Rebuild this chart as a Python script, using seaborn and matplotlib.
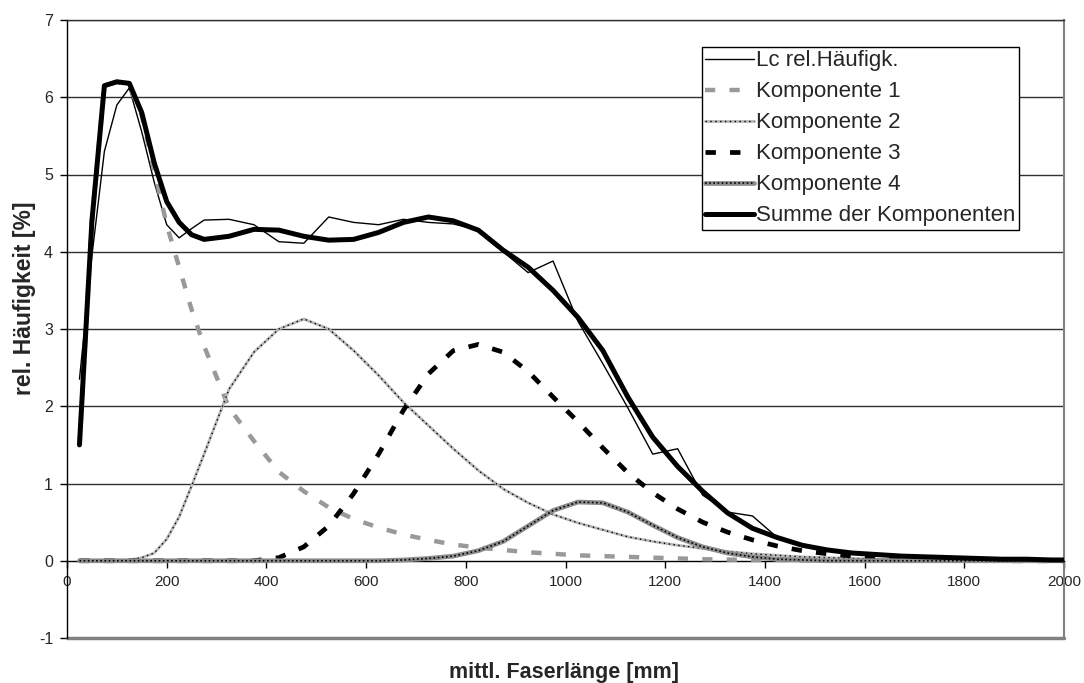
import numpy as np
import pandas as pd
import matplotlib
matplotlib.use("Agg")
import matplotlib.pyplot as plt
from matplotlib.legend_handler import HandlerTuple
import seaborn as sns

# ---------------- data ----------------
x_mm = [25, 50, 75, 100, 125, 150, 175, 200, 225, 250, 275, 325, 375, 425, 475,
        525, 575, 625, 675, 725, 775, 825, 875, 925, 975,
        1025, 1075, 1125, 1175, 1225, 1275, 1325, 1375, 1425, 1475,
        1525, 1575, 1625, 1675, 1725, 1775, 1825, 1875, 1925, 1975, 2000]

lc_rel = [2.35, 3.95, 5.3, 5.9, 6.12, 5.55, 4.9, 4.35, 4.18, 4.3, 4.41,
          4.42, 4.35, 4.13, 4.11,
          4.45, 4.38, 4.35, 4.42, 4.38, 4.36, 4.28, 4.0, 3.73, 3.88,
          3.1, 2.55, 1.98, 1.38, 1.45, 0.85, 0.63, 0.58, 0.3, 0.2,
          0.14, 0.1, 0.08, 0.06, 0.05, 0.04, 0.03, 0.02, 0.02, 0.01, 0.01]

komp1 = [1.5, 4.4, 6.15, 6.2, 6.15, 5.76, 5.05, 4.35, 3.8, 3.25, 2.78,
         1.98, 1.55, 1.15, 0.9,
         0.69, 0.54, 0.43, 0.34, 0.27, 0.21, 0.17, 0.14, 0.11, 0.09,
         0.07, 0.06, 0.05, 0.04, 0.03, 0.02, 0.015, 0.01, 0.01, 0.005,
         0.005, 0.0, 0.0, 0.0, 0.0, 0.0, 0.0, 0.0, 0.0, 0.0, 0.0]

komp2 = [0.0, 0.0, 0.0, 0.0, 0.01, 0.04, 0.1, 0.28, 0.57, 0.97, 1.38,
         2.22, 2.7, 3.0, 3.13,
         3.0, 2.72, 2.4, 2.05, 1.75, 1.45, 1.17, 0.93, 0.75, 0.6,
         0.49, 0.4, 0.31, 0.25, 0.2, 0.16, 0.12, 0.09, 0.07, 0.05,
         0.04, 0.03, 0.02, 0.015, 0.01, 0.005, 0.0, 0.0, 0.0, 0.0, 0.0]

komp3 = [0.0, 0.0, 0.0, 0.0, 0.0, 0.0, 0.0, 0.0, 0.0, 0.0, 0.0,
         0.0, 0.0, 0.04, 0.18,
         0.45, 0.87, 1.38, 1.95, 2.42, 2.72, 2.8, 2.7, 2.45, 2.12,
         1.8, 1.46, 1.14, 0.88, 0.67, 0.5, 0.37, 0.27, 0.19, 0.13,
         0.09, 0.06, 0.04, 0.025, 0.015, 0.01, 0.005, 0.0, 0.0, 0.0, 0.0]

komp4 = [0.0, 0.0, 0.0, 0.0, 0.0, 0.0, 0.0, 0.0, 0.0, 0.0, 0.0,
         0.0, 0.0, 0.0, 0.0,
         0.0, 0.0, 0.0, 0.01, 0.03, 0.06, 0.13, 0.25, 0.45, 0.65,
         0.76, 0.75, 0.63, 0.46, 0.3, 0.18, 0.1, 0.05, 0.02, 0.01,
         0.0, 0.0, 0.0, 0.0, 0.0, 0.0, 0.0, 0.0, 0.0, 0.0, 0.0]

summe = [1.5, 4.4, 6.15, 6.2, 6.18, 5.8, 5.15, 4.65, 4.38, 4.22, 4.16,
         4.2, 4.29, 4.28, 4.2,
         4.15, 4.16, 4.25, 4.38, 4.45, 4.4, 4.28, 4.02, 3.8, 3.5,
         3.15, 2.72, 2.12, 1.6, 1.22, 0.9, 0.62, 0.42, 0.3, 0.2,
         0.14, 0.1, 0.08, 0.06, 0.05, 0.04, 0.03, 0.02, 0.02, 0.01, 0.01]

labels = ["Lc rel.Häufigk.", "Komponente 1", "Komponente 2",
          "Komponente 3", "Komponente 4", "Summe der Komponenten"]
x_ticks = list(range(0, 2001, 200))
y_ticks = list(range(-1, 8))

# ---------------- figure ----------------
sns.set_theme(style="white")
plt.rcParams["font.family"] = ["Liberation Sans", "DejaVu Sans"]

fig = plt.figure(figsize=(10.84, 6.83), dpi=100)
ax = fig.add_axes([67 / 1084, 1 - 638 / 683, 997 / 1084, 618 / 683])

df = pd.DataFrame({"x": x_mm, "lc": lc_rel, "k1": komp1, "k2": komp2,
                   "k3": komp3, "k4": komp4, "sum": summe})

# gridlines
for yv in y_ticks[1:]:
    if yv != 0:
        ax.axhline(yv, color="#303030", lw=1.0, zorder=0)
n_grid = len(ax.get_lines())

sns.lineplot(data=df, x="x", y="lc", ax=ax, color="black", lw=1.0,
             zorder=3, legend=False)
sns.lineplot(data=df, x="x", y="k1", ax=ax, color="#999999", lw=3.2,
             linestyle=(0, (2.3, 3.2)), zorder=3, legend=False)
sns.lineplot(data=df, x="x", y="k2", ax=ax, color="#b8b8b8", lw=2.0,
             zorder=3, legend=False)
sns.lineplot(data=df, x="x", y="k2", ax=ax, color="black", lw=1.0,
             linestyle=(0, (1, 2.5)), zorder=3, legend=False)
sns.lineplot(data=df, x="x", y="k3", ax=ax, color="black", lw=3.4,
             linestyle=(0, (2.2, 3.0)), zorder=3, legend=False)
sns.lineplot(data=df, x="x", y="k4", ax=ax, color="#8c8c8c", lw=3.4,
             zorder=3, legend=False)
sns.lineplot(data=df, x="x", y="k4", ax=ax, color="black", lw=1.2,
             linestyle=(0, (1, 1.5)), zorder=3, legend=False)
sns.lineplot(data=df, x="x", y="sum", ax=ax, color="black", lw=3.6,
             zorder=4, legend=False)

L = ax.get_lines()[n_grid:]
handles = [L[0], L[1], (L[2], L[3]), L[4], (L[5], L[6]), L[7]]

leg = ax.legend(handles, labels, loc="upper left",
                bbox_to_anchor=((702 - 67) / 997, (638 - 47) / 618),
                fontsize=16, frameon=True, fancybox=False, shadow=False,
                handlelength=2.2, handletextpad=0.1, borderpad=0.15,
                labelspacing=0.45, borderaxespad=0.0,
                handler_map={tuple: HandlerTuple(ndivide=1, pad=0)})
leg.get_frame().set_edgecolor("black")
leg.get_frame().set_linewidth(1.0)
leg.get_frame().set_alpha(1.0)
leg.set_zorder(10)

ax.set_xlim(0, 2000)
ax.set_ylim(-1, 7)
ax.set_xticks(x_ticks)
ax.set_yticks(y_ticks)
ax.set_xticklabels([str(v) for v in x_ticks], fontsize=11.5)
ax.set_yticklabels([str(v) for v in y_ticks], fontsize=11.5)

ax.spines["bottom"].set_position(("data", 0))
ax.spines["bottom"].set_color("black")
ax.spines["bottom"].set_linewidth(1.0)
ax.spines["left"].set_color("black")
ax.spines["left"].set_linewidth(1.0)
ax.spines["right"].set_color("#808080")
ax.spines["right"].set_linewidth(1.5)
ax.spines["top"].set_color("#303030")
ax.spines["top"].set_linewidth(1.0)
ax.axhline(-1, color="#808080", lw=2.5, zorder=1, clip_on=False)

ax.tick_params(axis="both", which="both", direction="out", length=5,
               width=1, color="black", bottom=True, left=True, pad=5)

ax.set_xlabel("mittl. Faserlänge [mm]", fontsize=15.5, fontweight="bold")
ax.set_ylabel("rel. Häufigkeit [%]", fontsize=16.5, fontweight="bold")
ax.xaxis.set_label_coords((564 - 67) / 997, (638 - 662) / 618)
ax.yaxis.set_label_coords((36 - 67) / 997, (638 - 298) / 618)

fig.savefig("out.png", dpi=100, facecolor="white")
